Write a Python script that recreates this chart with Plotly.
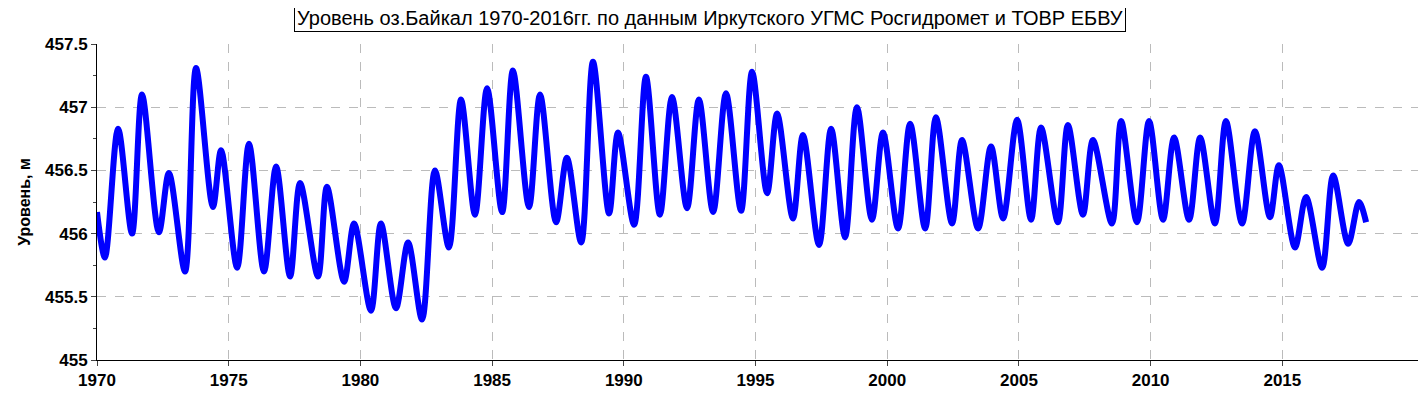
import plotly.graph_objects as go

years_offset = [0, 0.30, 0.80, 1.33, 1.71, 2.35, 2.73, 3.34, 3.76, 4.40, 4.71, 5.32, 5.77, 6.34, 6.80, 7.33, 7.71, 8.39, 8.73, 9.38, 9.76, 10.40, 10.78, 11.35, 11.81, 12.34, 12.83, 13.36, 13.82, 14.35, 14.81, 15.38, 15.79, 16.40, 16.82, 17.43, 17.84, 18.38, 18.83, 19.44, 19.78, 20.39, 20.84, 21.37, 21.83, 22.40, 22.85, 23.39, 23.88, 24.45, 24.87, 25.44, 25.82, 26.42, 26.80, 27.41, 27.87, 28.40, 28.85, 29.42, 29.84, 30.41, 30.87, 31.44, 31.85, 32.46, 32.84, 33.45, 33.94, 34.40, 34.93, 35.46, 35.84, 36.48, 36.86, 37.43, 37.81, 38.53, 38.88, 39.48, 39.94, 40.47, 40.89, 41.46, 41.88, 42.44, 42.86, 43.47, 43.96, 44.53, 44.87, 45.48, 45.90, 46.51, 46.93, 47.50, 47.91, 48.18]
levels = [456.17, 455.81, 456.83, 456.00, 457.10, 456.01, 456.48, 455.70, 457.31, 456.21, 456.66, 455.73, 456.71, 455.70, 456.53, 455.66, 456.40, 455.66, 456.37, 455.62, 456.08, 455.39, 456.08, 455.41, 455.93, 455.32, 456.50, 455.89, 457.06, 456.15, 457.15, 456.17, 457.29, 456.21, 457.10, 456.09, 456.60, 455.93, 457.36, 456.16, 456.80, 456.07, 457.24, 456.15, 457.08, 456.20, 457.06, 456.17, 457.11, 456.18, 457.28, 456.32, 456.95, 456.12, 456.78, 455.91, 456.83, 455.97, 457.00, 456.11, 456.80, 456.04, 456.87, 456.04, 456.92, 456.08, 456.74, 456.04, 456.69, 456.12, 456.90, 456.11, 456.84, 456.09, 456.86, 456.15, 456.74, 456.08, 456.89, 456.09, 456.89, 456.11, 456.76, 456.11, 456.76, 456.08, 456.89, 456.08, 456.81, 456.13, 456.54, 455.89, 456.29, 455.73, 456.46, 455.92, 456.25, 456.09]
x_ticks = [1970, 1975, 1980, 1985, 1990, 1995, 2000, 2005, 2010, 2015]
y_ticks = [455, 455.5, 456, 456.5, 457, 457.5]
y_tick_text = ["455", "455.5", "456", "456.5", "457", "457.5"]
title_text = "Уровень оз.Байкал 1970-2016гг. по данным Иркутского УГМС Росгидромет и ТОВР ЕБВУ"

t = [1970 + v for v in years_offset]
fig = go.Figure(go.Scatter(x=t, y=levels, mode="lines", line=dict(color="#0000ff", width=6, shape="spline", smoothing=0.9)))
fnt = dict(family="Liberation Sans, Arial", size=17, color="black")
fig.update_layout(
    width=1418, height=404, margin=dict(l=89, r=8, t=36, b=52),
    paper_bgcolor="white", plot_bgcolor="white", showlegend=False,
    font=fnt,
    annotations=[dict(text=title_text, x=0.464, xref="paper", y=1.081, yref="paper", yanchor="middle", showarrow=False,
                      font=dict(family="Liberation Sans, Arial", size=20, color="black"), bordercolor="black", borderwidth=1, borderpad=2, bgcolor="white")],
)
fig.update_xaxes(range=[1970, 2020.15], tickvals=x_ticks, ticktext=[f"<b>{v}</b>" for v in x_ticks], automargin=False,
                 showgrid=True, gridcolor="#bbbbbb", griddash="dash", gridwidth=1,
                 showline=True, linecolor="black", linewidth=1, ticks="outside", ticklen=5, zeroline=False)
fig.update_yaxes(range=[455, 457.5], tickvals=y_ticks, ticktext=[f"<b>{v}</b>" for v in y_tick_text], automargin=False,
                 showgrid=True, gridcolor="#bbbbbb", griddash="dash", gridwidth=1,
                 showline=True, linecolor="black", linewidth=1, ticks="outside", ticklen=5, zeroline=False,
                 minor=dict(dtick=0.25, ticks="outside", ticklen=3, showgrid=False),
                 title=dict(text="<b>Уровень, м</b>", font=dict(family="Liberation Sans, Arial", size=16, color="black"), standoff=10))
fig.write_html("out.html")
